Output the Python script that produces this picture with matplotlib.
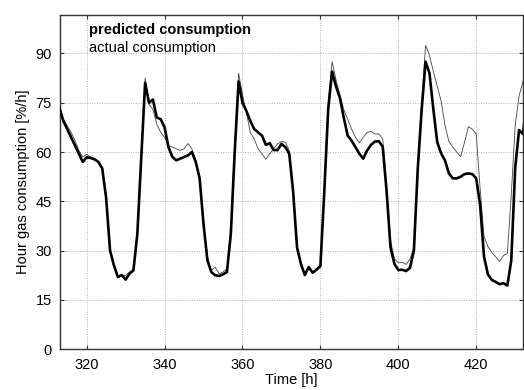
import numpy as np
import matplotlib
matplotlib.use("Agg")
import matplotlib.pyplot as plt

plt.rcParams['font.family'] = ['Liberation Sans', 'DejaVu Sans']

hours = list(range(313, 434))

predicted = [
    73.5, 69.5, 67.0, 64.5, 62.0, 59.5, 57.0, 58.4, 58.2, 57.8,   # 313-322
    57.0, 55.0, 46.0, 30.0, 25.5, 22.0, 22.6, 21.2, 23.0, 24.0,   # 323-332
    35.0, 58.0, 81.0, 75.0, 76.0, 70.5, 70.0, 67.5, 61.5, 58.5,   # 333-342
    57.5, 58.0, 58.5, 59.0, 60.0, 57.0, 52.0, 38.0, 27.0, 23.5,   # 343-352
    22.5, 22.3, 22.8, 23.5, 35.0, 60.0, 81.5, 75.0, 72.5, 69.5,   # 353-362
    67.0, 66.0, 65.0, 62.2, 62.7, 60.6, 60.6, 62.5, 61.5, 59.5,   # 363-372
    48.0, 31.0, 26.0, 22.6, 25.0, 23.3, 24.2, 25.3, 48.0, 73.0,   # 373-382
    84.5, 80.0, 76.5, 70.5, 65.0, 63.5, 61.5, 59.5, 58.0, 60.5,   # 383-392
    62.2, 63.2, 63.3, 61.6, 48.0, 31.0, 26.0, 24.1, 24.2, 23.8,   # 393-402
    24.8, 30.0, 55.0, 73.0, 87.5, 84.0, 73.0, 63.0, 59.6, 57.4,   # 403-412
    53.5, 52.0, 52.0, 52.5, 53.3, 53.5, 53.3, 52.0, 44.0, 28.2,   # 413-422
    22.8, 21.1, 20.5, 19.8, 20.1, 19.4, 27.0, 55.0, 66.7, 65.5,   # 423-432
    76.0,                                                          # 433
]

actual = [
    73.5, 70.0, 68.0, 66.0, 63.5, 60.5, 58.5, 59.3, 58.5, 58.0,   # 313-322
    57.2, 55.5, 46.5, 30.5, 26.0, 22.5, 22.3, 22.5, 23.5, 24.5,   # 323-332
    36.0, 59.0, 82.5, 74.5, 73.0, 68.5, 66.0, 64.5, 62.0, 61.5,   # 333-342
    61.0, 60.5, 61.0, 62.6, 61.0, 57.5, 52.0, 39.0, 28.0, 24.0,   # 343-352
    25.0, 23.0, 23.5, 24.5, 37.0, 62.0, 84.0, 77.5, 72.0, 66.0,   # 353-362
    64.0, 61.0, 59.5, 57.8, 59.5, 61.0, 62.5, 63.2, 63.0, 60.5,   # 363-372
    48.0, 31.0, 26.0, 23.0, 25.0, 23.5, 24.5, 25.5, 49.0, 75.0,   # 373-382
    87.5, 82.0, 77.5, 73.0, 70.0, 67.0, 64.5, 62.8, 64.5, 66.0,   # 383-392
    66.3, 65.5, 65.5, 64.0, 50.0, 33.0, 27.5, 26.3, 26.5, 25.8,   # 393-402
    27.5, 31.0, 55.0, 75.0, 92.5, 89.5, 84.5, 80.0, 75.5, 68.0,   # 403-412
    63.2, 61.5, 60.0, 58.6, 63.0, 67.7, 67.0, 65.5, 49.0, 34.3,   # 413-422
    31.3, 29.5, 28.2, 26.7, 28.5, 29.2, 47.0, 68.0, 77.0, 81.5,   # 423-432
    84.0,                                                          # 433
]

xticks = [320, 340, 360, 380, 400, 420]
yticks = [0, 15, 30, 45, 60, 75, 90]

fig = plt.figure(figsize=(5.24, 3.90), dpi=100)
ax = fig.add_axes([0.1145, 0.1044, 0.8835, 0.8571])

ax.plot(hours, actual, color='#444444', lw=0.6, zorder=3)
ax.plot(hours, predicted, color='black', lw=1.9, zorder=4)

ax.set_xlim(313.15, 432.0)
ax.set_ylim(0, 101.7)
ax.set_xticks(xticks)
ax.set_yticks(yticks)
ax.grid(True, color='#b0b0b0', linestyle=(0, (1, 1.5)), linewidth=0.7)
ax.tick_params(direction='in', top=True, right=True, labelsize=10.5, length=3,
               color='#333333', pad=6)
for s in ax.spines.values():
    s.set_color('#333333')
    s.set_linewidth(1.0)

ax.set_xlabel('Time [h]', fontsize=10.5, labelpad=1)
ax.set_ylabel('Hour gas consumption [%/h]', fontsize=10.5, labelpad=4)

ax.text(0.063, 0.955, 'predicted consumption', transform=ax.transAxes,
        fontsize=10.5, fontweight='bold', va='center', ha='left')
ax.text(0.063, 0.9, 'actual consumption', transform=ax.transAxes,
        fontsize=10.5, va='center', ha='left')

fig.savefig('out.png', dpi=100)
